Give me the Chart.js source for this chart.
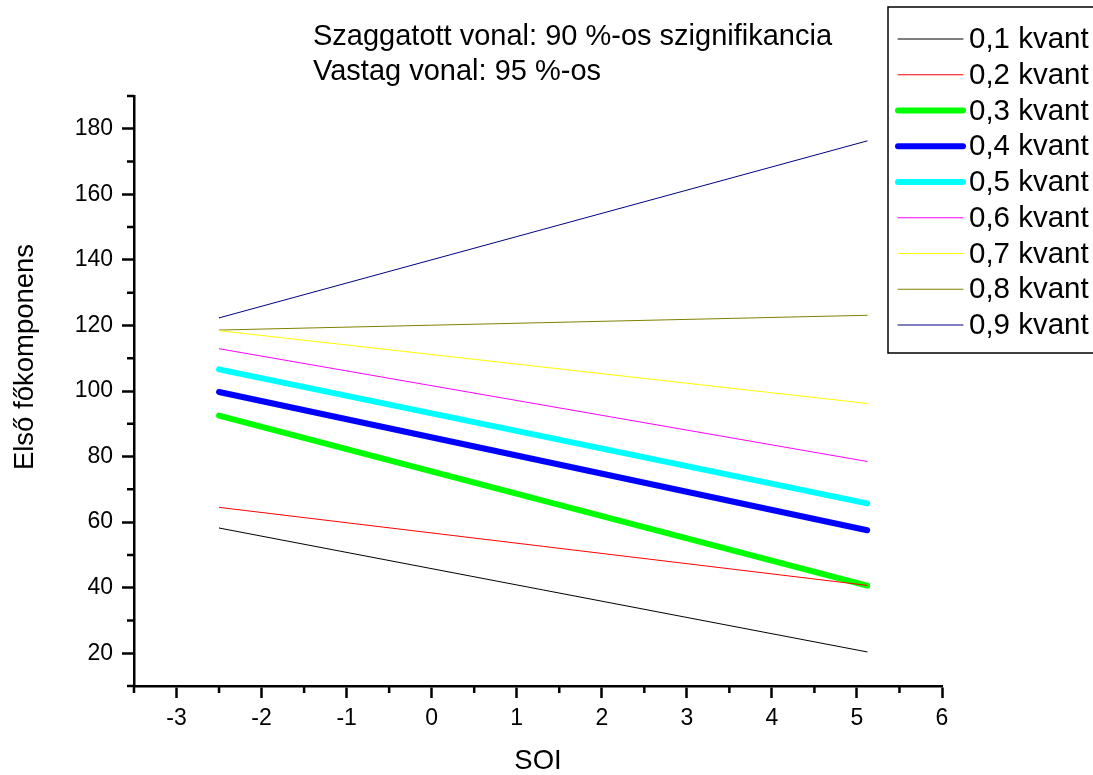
<!DOCTYPE html>
<html>
<head>
<meta charset="utf-8">
<script src="https://cdn.jsdelivr.net/npm/chart.js@4/dist/chart.umd.min.js"></script>
<style>
  body { margin: 0; background: #fff; }
  #wrap { width: 1093px; height: 775px; position: relative; }
</style>
</head>
<body>
<div id="wrap"><canvas id="mycanvas"></canvas></div>
<script>
// SOI range covered by every line
var soi = [-2.5, 5.12];

// quantile regression lines (Első főkomponens at both ends)
var q01 = [58.2, 20.4];
var q02 = [64.5, 40.7];
var q03 = [92.5, 40.6];
var q04 = [99.7, 57.5];
var q05 = [106.6, 65.7];
var q06 = [112.9, 78.5];
var q07 = [118.4, 96.2];
var q08 = [118.6, 123.1];
var q09 = [122.3, 176.3];

var labels = ["0,1 kvant", "0,2 kvant", "0,3 kvant", "0,4 kvant", "0,5 kvant",
              "0,6 kvant", "0,7 kvant", "0,8 kvant", "0,9 kvant"];
var colors = ["#000000", "#ff0000", "#00ff00", "#0000ff", "#00ffff",
              "#ff00ff", "#ffff00", "#808000", "#000080"];
var widths = [1, 1, 6, 6, 6, 1, 1, 1, 1];

var xTicks = [-3, -2, -1, 0, 1, 2, 3, 4, 5, 6];
var xMinor = [-3.5, -2.5, -1.5, -0.5, 0.5, 1.5, 2.5, 3.5, 4.5, 5.5];
var yTicks = [20, 40, 60, 80, 100, 120, 140, 160, 180];
var yMinor = [10, 30, 50, 70, 90, 110, 130, 150, 170, 190];

var FONT = "'Liberation Sans', Arial, sans-serif";

function pts(vals) {
  var out = [];
  for (var i = 0; i < soi.length; i++) out.push({x: soi[i], y: vals[i]});
  return out;
}

var series = [q01, q02, q03, q04, q05, q06, q07, q08, q09];
var datasets = [];
for (var i in series) {
  datasets.push({
    label: labels[i],
    data: pts(series[i]),
    borderColor: colors[i],
    backgroundColor: colors[i],
    borderWidth: widths[i],
    borderCapStyle: "round",
    pointRadius: 0,
    fill: false,
    tension: 0
  });
}

// minor ticks, axis titles, notes and the framed legend
var extras = {
  id: "extras",
  afterDraw: function(chart) {
    var c = chart.ctx;
    var xs = chart.scales.x, ys = chart.scales.y;
    var left = chart.chartArea.left, bottom = chart.chartArea.bottom;
    c.save();
    c.strokeStyle = "#000";
    c.lineWidth = 2.5;
    c.beginPath();
    yMinor.forEach(function(v) {
      var p = ys.getPixelForValue(v);
      c.moveTo(left, p); c.lineTo(left - 7, p);
    });
    xMinor.forEach(function(v) {
      var p = xs.getPixelForValue(v);
      c.moveTo(p, bottom); c.lineTo(p, bottom + 7);
    });
    c.stroke();

    c.fillStyle = "#000";
    c.font = "27.5px " + FONT;
    c.textAlign = "center";
    c.textBaseline = "middle";
    c.fillText("SOI", (left + chart.chartArea.right) / 2, 761);
    c.save();
    c.translate(25, 357);
    c.rotate(-Math.PI / 2);
    c.fillText("Első főkomponens", 0, 0);
    c.restore();

    c.textAlign = "left";
    c.font = "29px " + FONT;
    c.fillText("Szaggatott vonal: 90 %-os szignifikancia", 313, 37);
    c.fillText("Vastag vonal: 95 %-os", 313, 72);

    // legend box
    c.lineWidth = 1.5;
    c.strokeRect(888, 7, 220, 346);
    chart.data.datasets.forEach(function(ds, k) {
      var y = 39 + k * 35.75;
      c.beginPath();
      c.strokeStyle = ds.borderColor;
      c.lineWidth = ds.borderWidth;
      c.lineCap = "round";
      c.moveTo(898, y); c.lineTo(963, y);
      c.stroke();
      c.fillStyle = "#000";
      c.font = "29.5px " + FONT;
      c.fillText(ds.label, 969, y + 1);
    });
    c.restore();
  }
};

var ctx = document.getElementById("mycanvas");
var chart = new Chart(ctx, {
  type: "line",
  data: { datasets: datasets },
  options: {
    responsive: true,
    maintainAspectRatio: false,
    animation: false,
    layout: { padding: { top: 96, right: 151, left: 0, bottom: 0 } },
    plugins: { legend: { display: false }, tooltip: { enabled: false } },
    scales: {
      x: {
        type: "linear",
        min: -3.5,
        max: 6,
        afterBuildTicks: function(s) { s.ticks = xTicks.map(function(v) { return {value: v}; }); },
        afterFit: function(s) { s.height = 89; },
        grid: { drawOnChartArea: false, tickLength: 12, tickColor: "#000", tickWidth: 2.5 },
        border: { display: true, color: "#000", width: 2.5 },
        ticks: { color: "#000", font: { family: FONT, size: 23 }, padding: 7, maxRotation: 0 }
      },
      y: {
        type: "linear",
        min: 10,
        max: 190,
        afterBuildTicks: function(s) { s.ticks = yTicks.map(function(v) { return {value: v}; }); },
        afterFit: function(s) { s.width = 134; },
        grid: { drawOnChartArea: false, tickLength: 12, tickColor: "#000", tickWidth: 2.5 },
        border: { display: true, color: "#000", width: 2.5 },
        ticks: { color: "#000", font: { family: FONT, size: 23 }, padding: 9 }
      }
    }
  },
  plugins: [extras]
});
</script>
</body>
</html>
